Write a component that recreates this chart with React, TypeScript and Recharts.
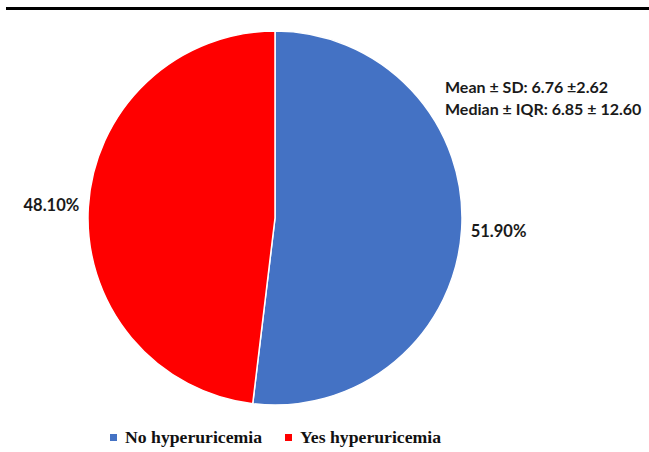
import { PieChart, Pie, Cell, Legend, Customized } from 'recharts';

const categories = ['No hyperuricemia', 'Yes hyperuricemia'];
const shares = [51.9, 48.1];
const sliceColors = ['#4472C4', '#FF0000'];
const statLines = ['Mean ± SD: 6.76 ±2.62', 'Median ± IQR: 6.85 ± 12.60'];

const data = categories.map((name, i) => ({ name, value: shares[i] }));

const RADIAN = Math.PI / 180;
const labelFont = 'Lato, "Open Sans", sans-serif';

// percentage label outside each slice, at its mid angle
const renderLabel = (props: any) => {
  const { cx, cy, midAngle, outerRadius, value } = props;
  const r = outerRadius + 37;
  const x = cx + r * Math.cos(-midAngle * RADIAN);
  const y = cy + r * Math.sin(-midAngle * RADIAN);
  return (
    <text
      x={x}
      y={y}
      textAnchor="middle"
      dominantBaseline="central"
      fontFamily={labelFont}
      fontWeight={700}
      fontSize={16.5}
      fill="#1a1a1a"
    >
      {`${value.toFixed(2)}%`}
    </text>
  );
};

const renderLegend = () => (
  <div style={{ display: 'flex', justifyContent: 'flex-start', paddingLeft: 110 }}>
    {categories.map((name, i) => (
      <div key={name} style={{ display: 'flex', alignItems: 'center', marginRight: i === 0 ? 23 : 0 }}>
        <span style={{ width: 7, height: 7, background: sliceColors[i], display: 'inline-block', marginRight: 8 }} />
        <span style={{ fontFamily: '"Liberation Serif", serif', fontWeight: 700, fontSize: 17.7, color: '#111' }}>
          {name}
        </span>
      </div>
    ))}
  </div>
);

export default function App() {
  return (
    <div style={{ position: 'absolute', left: 0, top: 0, width: 649, height: 452, background: '#fff' }}>
      <PieChart width={649} height={452} margin={{ top: 0, right: 0, bottom: 0, left: 0 }}>
        <Customized
          component={() => (
            <g>
              <rect x={6} y={7} width={643} height={3} fill="#000" />
              {statLines.map((t, i) => (
                <text
                  key={t}
                  x={445}
                  y={93 + i * 22}
                  fontFamily={labelFont}
                  fontWeight={700}
                  fontSize={16}
                  fill="#1a1a1a"
                >
                  {t}
                </text>
              ))}
            </g>
          )}
        />
        <Pie
          data={data}
          dataKey="value"
          nameKey="name"
          cx={275}
          cy={218}
          outerRadius={187}
          startAngle={90}
          endAngle={-270}
          stroke="#fff"
          strokeWidth={1.5}
          label={renderLabel}
          labelLine={false}
          isAnimationActive={false}
        >
          {data.map((d, i) => (
            <Cell key={d.name} fill={sliceColors[i]} />
          ))}
        </Pie>
        <Legend
          content={renderLegend}
          wrapperStyle={{ position: 'absolute', left: 0, top: 427, width: 649 }}
        />
      </PieChart>
    </div>
  );
}
